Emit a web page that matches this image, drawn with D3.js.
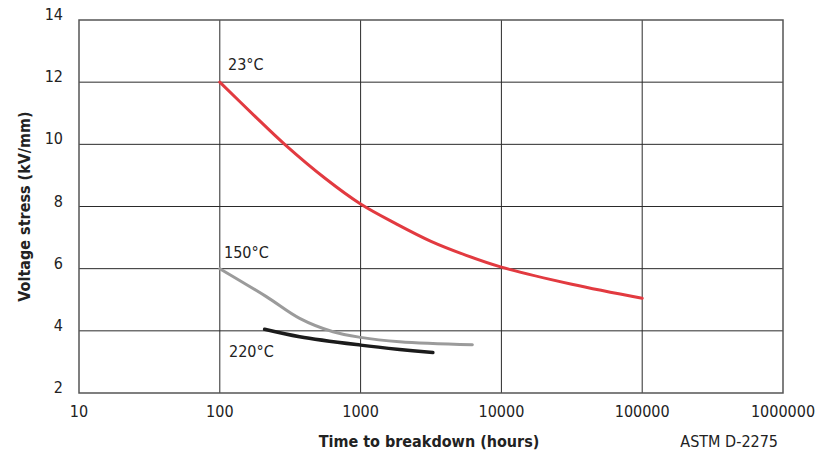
<!DOCTYPE html>
<html>
<head>
<meta charset="utf-8">
<script src="https://cdn.jsdelivr.net/npm/d3@7"></script>
<style>
  body { margin: 0; background: #fff; }
  svg text { font-family: 'Liberation Sans Narrow', 'DejaVu Sans Condensed', 'Roboto', sans-serif; fill: #222; }
</style>
</head>
<body>
<div id="chart"></div>
<script>
// tick values
const xTicks = [10, 100, 1000, 10000, 100000, 1000000];
const yTicks = [2, 4, 6, 8, 10, 12, 14];

// curves: [hours, kV/mm]
const temp23 = [[100, 12], [178, 10.9], [289, 10.0], [562, 8.9], [1000, 8.08], [1778, 7.45], [3162, 6.88],
                [5623, 6.43], [10000, 6.05], [31623, 5.5], [100000, 5.05]];
const temp150 = [[100, 6], [214, 5.1], [369, 4.4], [637, 3.97], [1000, 3.79], [1893, 3.65], [6220, 3.55]];
const temp220 = [[208, 4.05], [369, 3.81], [1000, 3.54], [1893, 3.4], [3260, 3.3]];

const seriesLabels = ['23°C', '150°C', '220°C'];
const seriesColors = ['#e23a40', '#9b9b9b', '#1b1b1b'];

let width = 823,
    height = 455,
    minX = 79,
    maxX = 783,
    minY = 20,
    maxY = 393;

let canvas = d3.select('#chart')
  .append('svg')
  .attr('width', width)
  .attr('height', height);

//X Axis: log hours
let xScale = d3.scaleLog()
  .domain([10, 1000000])
  .range([minX, maxX]);

//Y Axis: voltage stress
let yScale = d3.scaleLinear()
  .domain([2, 14])
  .range([maxY, minY]);

//Grid lines
canvas.append('g')
  .selectAll('line')
  .data(xTicks.slice(1, -1))
  .join('line')
  .attr('x1', d => xScale(d))
  .attr('x2', d => xScale(d))
  .attr('y1', minY)
  .attr('y2', maxY)
  .attr('stroke', '#2a2a2a')
  .attr('stroke-width', 1);

canvas.append('g')
  .selectAll('line')
  .data(yTicks.slice(1, -1))
  .join('line')
  .attr('x1', minX)
  .attr('x2', maxX)
  .attr('y1', d => yScale(d))
  .attr('y2', d => yScale(d))
  .attr('stroke', '#2a2a2a')
  .attr('stroke-width', 1);

//Frame
canvas.append('rect')
  .attr('x', minX)
  .attr('y', minY)
  .attr('width', maxX - minX)
  .attr('height', maxY - minY)
  .attr('fill', 'none')
  .attr('stroke', '#555')
  .attr('stroke-width', 1.5);

//Curves
let line = d3.line()
  .x(d => xScale(d[0]))
  .y(d => yScale(d[1]))
  .curve(d3.curveCatmullRom.alpha(0.5));

[temp23, temp150, temp220].forEach((s, i) => {
  canvas.append('path')
    .attr('d', line(s))
    .attr('fill', 'none')
    .attr('stroke', seriesColors[i])
    .attr('stroke-width', i == 2 ? 3.5 : 3)
    .attr('stroke-linecap', 'round');
});

//Curve labels
canvas.append('text').attr('x', 228).attr('y', 70).attr('font-size', 16).text(seriesLabels[0]);
canvas.append('text').attr('x', 224).attr('y', 258).attr('font-size', 16).text(seriesLabels[1]);
canvas.append('text').attr('x', 229).attr('y', 357).attr('font-size', 16).text(seriesLabels[2]);

//Tick labels
canvas.append('g')
  .selectAll('text')
  .data(xTicks)
  .join('text')
  .attr('x', d => xScale(d))
  .attr('y', 417)
  .attr('text-anchor', 'middle')
  .attr('font-size', 16)
  .text(d => d);

canvas.append('g')
  .selectAll('text')
  .data(yTicks)
  .join('text')
  .attr('x', 63)
  .attr('y', d => yScale(d))
  .attr('text-anchor', 'end')
  .attr('font-size', 16)
  .text(d => d);

//Axis titles
canvas.append('text')
  .attr('x', 429)
  .attr('y', 447)
  .attr('text-anchor', 'middle')
  .attr('font-size', 16)
  .attr('font-weight', 'bold')
  .text('Time to breakdown (hours)');

canvas.append('text')
  .attr('transform', `translate(30, ${(minY + maxY) / 2}) rotate(-90)`)
  .attr('text-anchor', 'middle')
  .attr('font-size', 16)
  .attr('font-weight', 'bold')
  .text('Voltage stress (kV/mm)');

canvas.append('text')
  .attr('x', 778)
  .attr('y', 447)
  .attr('text-anchor', 'end')
  .attr('font-size', 16)
  .text('ASTM D-2275');
</script>
</body>
</html>
